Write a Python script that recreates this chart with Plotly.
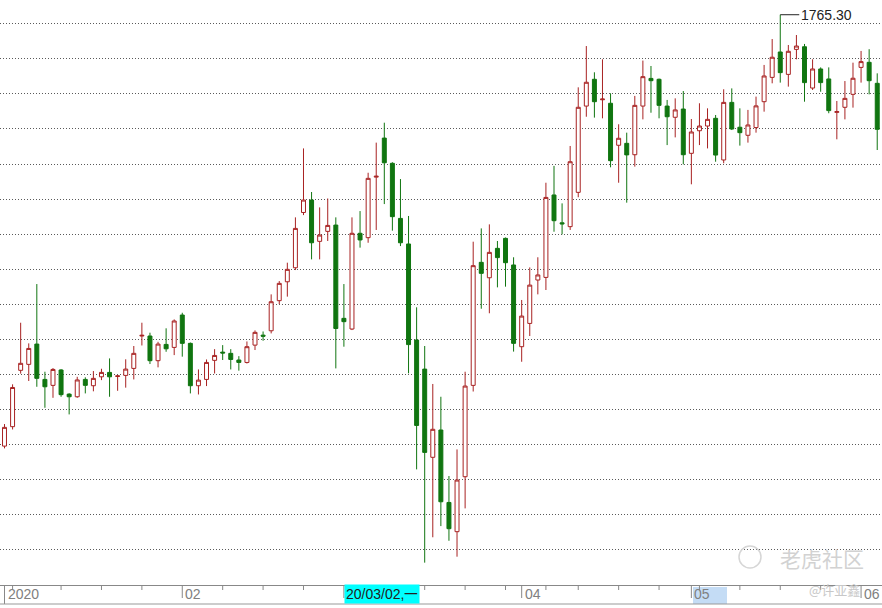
import pandas as pd
import plotly.graph_objects as go

# ---- data (COMEX gold, daily) ----
_bd = pd.bdate_range("2020-01-02", "2020-06-03")
dates = [d.strftime("%Y-%m-%d") for d in _bd if d.strftime("%Y-%m-%d") != "2020-04-10"]

open_ = [1518.8, 1529.9, 1562.1, 1565.5, 1577.1, 1556.9, 1553.5, 1562.3, 1548.5, 1547.0,
         1556.9, 1553.3, 1558.4, 1560.9, 1558.6, 1559.2, 1563.2, 1581.7, 1581.7, 1567.6,
         1576.9, 1575.2, 1593.7, 1577.5, 1553.3, 1556.9, 1567.8, 1572.5, 1571.8, 1568.0,
         1566.6, 1576.5, 1582.2, 1584.7, 1601.9, 1612.7, 1620.7, 1652.3, 1659.4, 1635.8,
         1641.5, 1645.1, 1591.8, 1585.7, 1640.4, 1637.9, 1672.5, 1694.8, 1680.4, 1648.9,
         1634.3, 1579.4, 1562.8, 1512.4, 1528.0, 1486.6, 1469.9, 1501.3, 1553.5, 1623.8,
         1615.0, 1631.8, 1637.5, 1622.3, 1575.6, 1588.9, 1613.7, 1615.2, 1662.3, 1646.4,
         1644.2, 1663.8, 1713.1, 1728.4, 1716.7, 1714.7, 1690.7, 1691.8, 1685.3, 1713.1,
         1728.9, 1728.4, 1713.1, 1706.7, 1711.4, 1686.1, 1699.0, 1701.7, 1706.1, 1682.3,
         1715.2, 1701.0, 1696.4, 1700.8, 1715.6, 1729.5, 1744.0, 1731.2, 1745.5, 1747.0,
         1723.4, 1734.3, 1728.6, 1709.5, 1712.4, 1719.8, 1735.2, 1738.1, 1726.1]
high = [1531.4, 1554.1, 1589.3, 1577.5, 1611.4, 1561.3, 1563.4, 1562.8, 1549.0, 1558.4,
        1558.1, 1561.7, 1563.0, 1568.9, 1559.4, 1568.4, 1576.0, 1589.3, 1583.6, 1578.4,
        1586.1, 1591.2, 1595.0, 1578.0, 1562.6, 1568.3, 1574.2, 1576.5, 1574.2, 1570.2,
        1578.6, 1584.9, 1584.3, 1605.5, 1613.1, 1623.6, 1649.5, 1688.9, 1664.0, 1655.2,
        1660.3, 1649.5, 1611.4, 1649.5, 1653.1, 1675.0, 1692.2, 1703.6, 1681.0, 1671.4,
        1650.3, 1598.1, 1576.0, 1554.3, 1547.0, 1501.7, 1516.9, 1561.3, 1635.6, 1643.2,
        1645.5, 1636.0, 1638.0, 1626.7, 1602.3, 1620.9, 1626.7, 1669.3, 1678.9, 1657.5,
        1690.3, 1723.8, 1747.4, 1732.4, 1739.8, 1720.4, 1702.7, 1697.9, 1718.9, 1739.1,
        1736.0, 1728.8, 1716.6, 1717.5, 1721.7, 1705.7, 1714.7, 1711.8, 1708.0, 1722.7,
        1723.2, 1711.8, 1710.9, 1718.5, 1736.6, 1751.4, 1765.3, 1748.0, 1753.7, 1748.6,
        1739.8, 1735.2, 1735.2, 1716.0, 1727.4, 1737.9, 1744.6, 1745.6, 1731.8]
low = [1517.5, 1528.3, 1560.2, 1556.0, 1552.7, 1540.7, 1546.4, 1547.0, 1536.9, 1546.4,
       1548.9, 1550.1, 1556.5, 1547.0, 1550.4, 1552.2, 1556.9, 1576.3, 1565.7, 1563.8,
       1572.7, 1570.8, 1569.9, 1548.9, 1548.3, 1553.1, 1560.3, 1568.0, 1562.6, 1561.9,
       1566.0, 1573.7, 1579.0, 1583.2, 1600.0, 1604.2, 1619.4, 1650.8, 1625.5, 1625.5,
       1636.0, 1563.2, 1575.6, 1585.1, 1632.2, 1635.0, 1642.3, 1657.1, 1641.9, 1633.1,
       1560.4, 1505.5, 1452.2, 1466.7, 1473.1, 1464.7, 1455.6, 1483.2, 1550.0, 1597.3,
       1594.7, 1609.5, 1609.9, 1572.8, 1567.0, 1581.7, 1605.5, 1608.0, 1641.3, 1639.8,
       1642.3, 1661.0, 1707.0, 1706.5, 1706.1, 1678.1, 1669.3, 1657.9, 1678.5, 1705.5,
       1709.3, 1706.1, 1690.8, 1695.2, 1679.8, 1668.4, 1690.8, 1688.9, 1681.3, 1680.4,
       1699.4, 1690.5, 1692.2, 1697.9, 1709.9, 1726.1, 1726.5, 1724.2, 1739.8, 1715.6,
       1722.3, 1721.3, 1709.0, 1694.1, 1705.5, 1712.2, 1726.5, 1719.8, 1688.0]
close = [1529.5, 1552.3, 1566.1, 1574.6, 1557.5, 1552.7, 1562.6, 1548.2, 1547.0, 1556.6,
         1553.5, 1557.5, 1560.9, 1558.4, 1558.9, 1562.8, 1571.8, 1582.1, 1567.6, 1577.1,
         1574.4, 1590.3, 1577.5, 1553.3, 1556.5, 1566.6, 1570.6, 1572.0, 1568.3, 1566.6,
         1575.6, 1583.8, 1581.6, 1601.3, 1611.8, 1619.8, 1643.2, 1659.4, 1635.0, 1639.4,
         1644.9, 1586.0, 1589.9, 1640.4, 1636.6, 1671.8, 1673.0, 1680.7, 1649.9, 1635.0,
         1576.8, 1530.6, 1515.2, 1528.4, 1487.0, 1471.6, 1499.4, 1553.1, 1621.9, 1617.5,
         1629.5, 1626.5, 1623.6, 1577.5, 1593.1, 1610.8, 1616.6, 1660.9, 1647.6, 1645.8,
         1681.3, 1712.4, 1726.7, 1715.6, 1717.1, 1681.9, 1694.7, 1685.2, 1713.5, 1729.9,
         1727.6, 1713.5, 1707.0, 1710.9, 1685.3, 1698.3, 1701.7, 1705.5, 1685.1, 1715.2,
         1700.0, 1697.9, 1702.3, 1713.2, 1730.3, 1741.0, 1732.2, 1744.4, 1747.4, 1726.5,
         1734.3, 1726.5, 1710.5, 1709.9, 1717.5, 1729.0, 1738.5, 1727.6, 1699.8]

month_tick_dates = ["2020-01-02", "2020-02-03", "2020-03-02", "2020-04-01", "2020-05-01", "2020-06-01"]
month_tick_labels = ["2020", "02", "20/03/02,一", "04", "05", "06"]
week_tick_dates = ["2020-01-03", "2020-01-13", "2020-01-20", "2020-01-27", "2020-02-10",
                   "2020-02-17", "2020-02-24", "2020-03-09", "2020-03-16", "2020-03-23",
                   "2020-03-30", "2020-04-06", "2020-04-13", "2020-04-20", "2020-04-27",
                   "2020-05-04", "2020-05-11", "2020-05-18", "2020-05-25"]
max_label = "1765.30"

assert len(dates) == len(open_) == len(high) == len(low) == len(close)

W, H = 882, 608
PLOT_H = 585
def py(px):  # pixel row -> paper y (plot area spans rows 0..PLOT_H)
    return (PLOT_H - px) / PLOT_H

UP = "#a82222"
DOWN = "#107510"
FONT = "Liberation Sans, Arial, sans-serif"

fig = go.Figure(go.Candlestick(
    x=dates, open=open_, high=high, low=low, close=close,
    increasing=dict(line=dict(color=UP, width=1), fillcolor="#ffffff"),
    decreasing=dict(line=dict(color=DOWN, width=1), fillcolor=DOWN),
    hoverinfo="skip", showlegend=False,
))

shapes = []
for d in week_tick_dates:
    shapes.append(dict(type="line", xref="x", yref="paper", x0=d, x1=d,
                       y0=0, y1=py(590), line=dict(color="#888888", width=1)))
for i, d in enumerate(month_tick_dates):
    bottom = 604 if i == 0 else 598
    shapes.append(dict(type="line", xref="x", yref="paper", x0=d, x1=d,
                       y0=0, y1=py(bottom), line=dict(color="#888888", width=1)))
shapes.append(dict(type="line", xref="paper", yref="paper", x0=0, x1=1,
                   y0=py(604), y1=py(604), line=dict(color="#999999", width=1)))
shapes.append(dict(type="rect", xref="paper", yref="paper", x0=693 / W, x1=727 / W,
                   y0=py(604), y1=py(587), line=dict(width=0), fillcolor="#c4dcf5", layer="below"))
shapes.append(dict(type="circle", xref="paper", yref="paper", x0=739 / W, x1=761 / W,
                   y0=py(568), y1=py(546), line=dict(color="#d6d6d6", width=1.5)))

annotations = []
for d, lab in zip(month_tick_dates, month_tick_labels):
    if lab.startswith("20/"):
        annotations.append(dict(x=d, xref="x", y=py(594), yref="paper", text=lab,
                                showarrow=False, xanchor="left", yanchor="middle",
                                bgcolor="#00ffff", borderpad=1,
                                font=dict(family=FONT, size=14, color="#222222")))
    else:
        annotations.append(dict(x=d, xref="x", y=py(594), yref="paper", text=lab,
                                showarrow=False, xanchor="left", yanchor="middle", xshift=1,
                                font=dict(family=FONT, size=14, color="#808080")))

imax = high.index(max(high))
annotations.append(dict(x=dates[imax], y=high[imax], xref="x", yref="y", text=max_label,
                        showarrow=True, arrowhead=0, arrowwidth=1, arrowcolor="#222222",
                        ax=19, ay=0, xanchor="left", standoff=0, borderpad=1,
                        font=dict(family=FONT, size=14, color="#222222")))
annotations.append(dict(x=822 / W, y=py(558), xref="paper", yref="paper", text="老虎社区",
                        showarrow=False, xanchor="center", yanchor="middle",
                        font=dict(family="Noto Sans CJK SC", size=21, color="#d2d2d2")))
annotations.append(dict(x=834 / W, y=py(589), xref="paper", yref="paper", text="@许亚鑫",
                        showarrow=False, xanchor="center", yanchor="middle",
                        font=dict(family="Noto Sans CJK SC", size=13, color="#c8c8c8")))

n = len(dates)
fig.update_layout(
    width=W, height=H, autosize=False,
    margin=dict(l=0, r=0, t=0, b=H - PLOT_H, pad=0),
    paper_bgcolor="#ffffff", plot_bgcolor="#ffffff",
    shapes=shapes, annotations=annotations,
    hovermode=False,
    xaxis=dict(type="category", categoryorder="array", categoryarray=dates,
               range=[-0.557, n - 1 + 0.59], rangeslider=dict(visible=False),
               showgrid=False, showticklabels=False, ticks="", zeroline=False,
               showline=True, linecolor="#888888", linewidth=1, fixedrange=True),
    yaxis=dict(range=[1439.43, 1773.71], dtick=20, tick0=0, showticklabels=False,
               showgrid=True, gridcolor="#5a5a5a", gridwidth=1, griddash="1px,2px",
               zeroline=False, showline=False, ticks="", fixedrange=True),
)

fig.write_html(
    "out.html",
    config={"responsive": False, "displayModeBar": False},
    post_script="document.body.style.margin='0';document.body.style.padding='0';"
                "document.body.style.overflow='hidden';",
)
